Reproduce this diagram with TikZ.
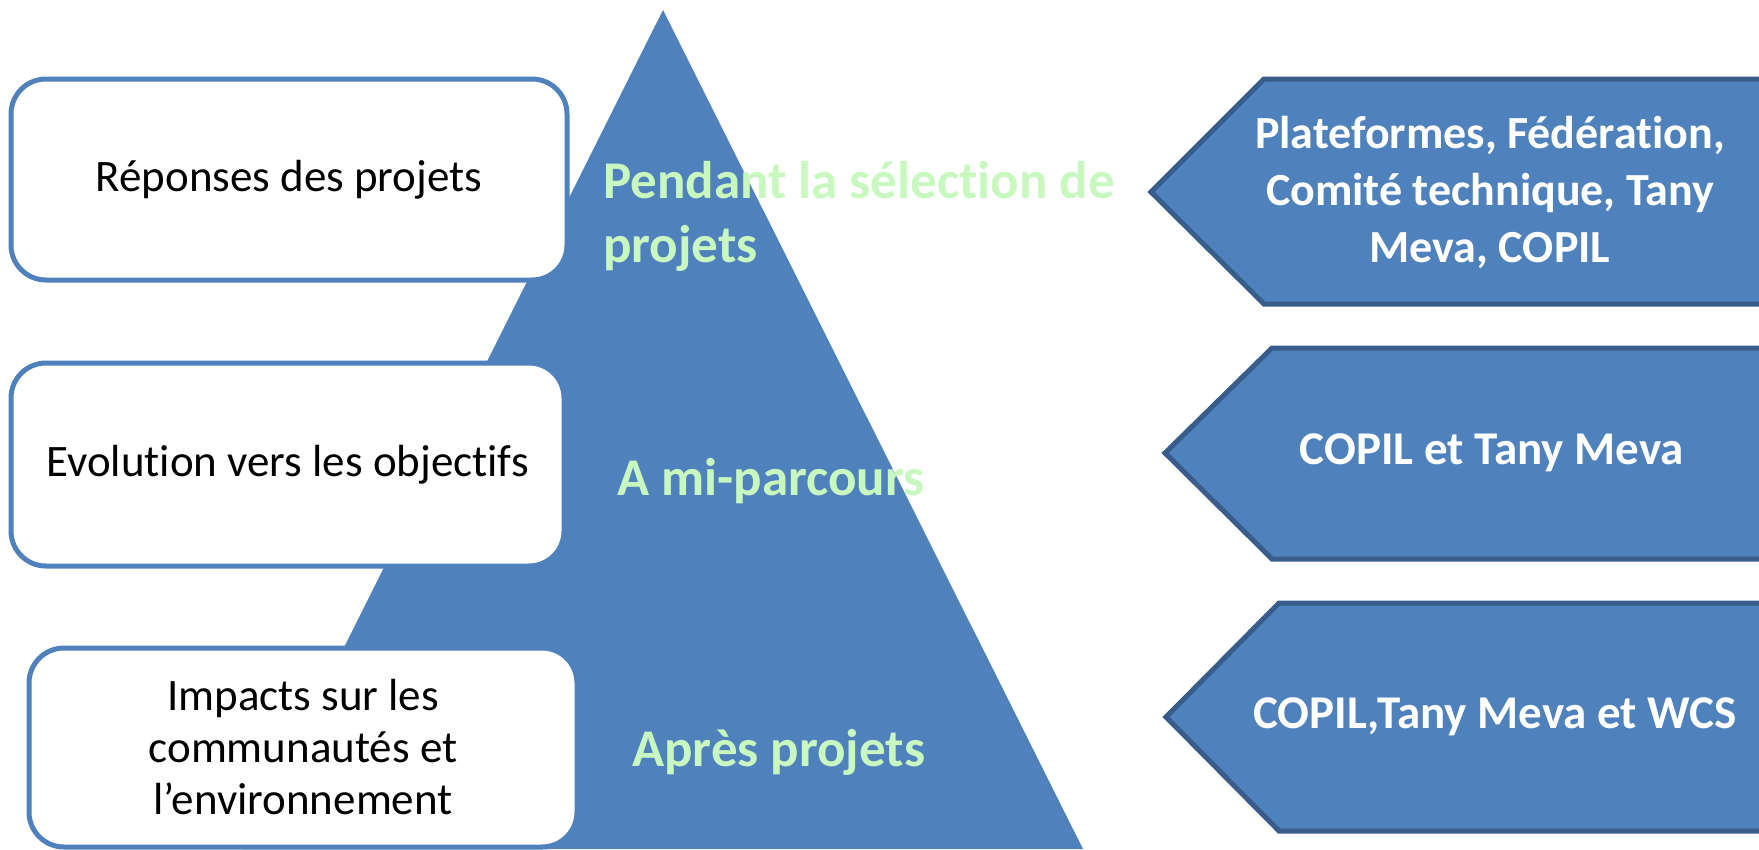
\documentclass[tikz,border=0pt]{standalone}
\usepackage{fontspec}
\setmainfont{Carlito}[Ligatures=NoCommon]

\definecolor{pyrblue}{HTML}{4F81BD}
\definecolor{pyredge}{HTML}{385D8A}
\definecolor{phasegreen}{HTML}{C8F8C0}

\tikzset{
  stagebox/.style={draw=pyrblue, line width=5pt, fill=white, rounded corners=35pt,
    align=center, font=\fontsize{45}{52}\selectfont},
  phase/.style={text=phasegreen, anchor=base west, align=left, inner sep=0pt,
    font=\bfseries\fontsize{53}{64}\selectfont},
  actor/.style={text=white, align=center, font=\bfseries\fontsize{47}{57}\selectfont},
  chevron/.style={fill=pyrblue, draw=pyredge, line width=5pt, line join=miter}
}

\begin{document}
\begin{tikzpicture}[x=1pt, y=-1pt]
\useasboundingbox (0,0) rectangle (1759,849);

% pyramide
\fill[pyrblue] (663,10) -- (1083,849) -- (243,849) -- cycle;

% ce qu'on evalue
\node[stagebox, minimum width=556pt, minimum height=201pt] (reponses) at (289,179.5) {Réponses des projets};
\node[stagebox, minimum width=553pt, minimum height=203pt] (evolution) at (287.5,464.5) {Evolution vers les objectifs};
\node[stagebox, minimum width=548pt, minimum height=199pt] (impacts) at (303,747.5) {Impacts sur les\\communautés et\\l’environnement};

% quand
\node[phase] (pendant) at (603,262) {Pendant la sélection de\\projets};
\node[phase] (mi) at (617,495) {A mi-parcours};
\node[phase] (apres) at (632,766) {Après projets};

% qui
\filldraw[chevron] (1151,192) -- (1264,79) -- (1790,79) -- (1790,304) -- (1264,304) -- cycle;
\filldraw[chevron] (1165,453) -- (1272,348) -- (1790,348) -- (1790,559) -- (1272,559) -- cycle;
\filldraw[chevron] (1166,717) -- (1279,603) -- (1790,603) -- (1790,831) -- (1279,831) -- cycle;

\node[actor, font=\bfseries\fontsize{46}{57}\selectfont] (comite) at (1490,192) {Plateformes, Fédération,\\Comité technique, Tany\\Meva, COPIL};
\node[actor] (copil) at (1492,453) {COPIL et Tany Meva};
\node[actor] (wcs) at (1495,717) {COPIL,Tany Meva et WCS};
\end{tikzpicture}
\end{document}
